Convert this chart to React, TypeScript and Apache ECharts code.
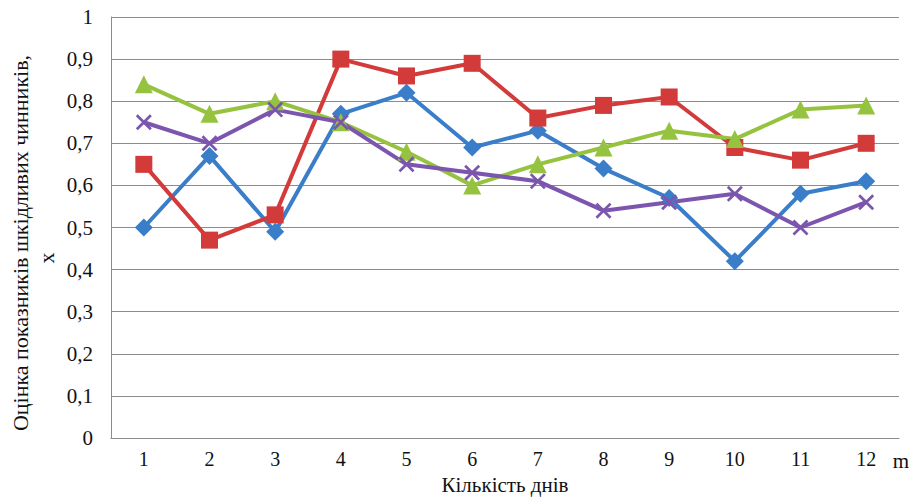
import React, { useEffect, useRef } from "react";
import * as echarts from "echarts";

const categories = ["1", "2", "3", "4", "5", "6", "7", "8", "9", "10", "11", "12"];
const blueSeries = [0.5, 0.67, 0.49, 0.77, 0.82, 0.69, 0.73, 0.64, 0.57, 0.42, 0.58, 0.61];
const redSeries = [0.65, 0.47, 0.53, 0.9, 0.86, 0.89, 0.76, 0.79, 0.81, 0.69, 0.66, 0.7];
const greenSeries = [0.84, 0.77, 0.8, 0.75, 0.68, 0.6, 0.65, 0.69, 0.73, 0.71, 0.78, 0.79];
const purpleSeries = [0.75, 0.7, 0.78, 0.75, 0.65, 0.63, 0.61, 0.54, 0.56, 0.58, 0.5, 0.56];

const yAxisTitle = "Оцінка показників шкідливих чинників,";
const yAxisTitle2 = "x";
const xAxisTitle = "Кількість днів";
const xAxisUnit = "m";

const FONT = "'Liberation Serif', 'Times New Roman', serif";
const crossPath =
  "path://M0,1.2L1.2,0L5,3.8L8.8,0L10,1.2L6.2,5L10,8.8L8.8,10L5,6.2L1.2,10L0,8.8L3.8,5Z";

export default function App() {
  const ref = useRef<HTMLDivElement>(null);
  useEffect(() => {
    if (!ref.current) return;
    const chart = echarts.init(ref.current, null, { renderer: "svg" });
    const mk = (name: string, data: number[], color: string, symbol: string, size: number) => ({
      name,
      type: "line",
      data,
      symbol,
      symbolSize: size,
      showAllSymbol: true,
      lineStyle: { color, width: 4 },
      itemStyle: { color },
      z: 3,
    });
    const titleStyle = (text: string, size: number) => ({
      text,
      fontFamily: FONT,
      fontSize: size,
      fill: "#111",
      textAlign: "center",
      textVerticalAlign: "middle",
    });
    chart.setOption({
      animation: false,
      backgroundColor: "#ffffff",
      grid: { left: 111, right: 14, top: 17, bottom: 59, containLabel: false },
      xAxis: {
        type: "category",
        data: categories,
        boundaryGap: true,
        axisLine: { show: true, lineStyle: { color: "#8c8c8c", width: 1 } },
        axisTick: { show: false },
        axisLabel: { fontFamily: FONT, fontSize: 20, color: "#111", margin: 11 },
      },
      yAxis: {
        type: "value",
        min: 0,
        max: 1,
        interval: 0.1,
        axisLine: { show: true, lineStyle: { color: "#8c8c8c", width: 1 } },
        axisTick: { show: false },
        splitLine: { show: true, lineStyle: { color: "#8c8c8c", width: 1 } },
        axisLabel: {
          fontFamily: FONT,
          fontSize: 21,
          color: "#111",
          margin: 18,
          formatter: (v: number) => {
            const r = Math.round(v * 10) / 10;
            return String(r).replace(".", ",");
          },
        },
      },
      graphic: [
        { type: "text", x: 20, y: 243, rotation: Math.PI / 2, style: titleStyle(yAxisTitle, 22) },
        { type: "text", x: 46, y: 258, rotation: Math.PI / 2, style: titleStyle(yAxisTitle2, 22) },
        { type: "text", x: 505, y: 485, style: titleStyle(xAxisTitle, 21) },
        { type: "text", x: 901, y: 461, style: titleStyle(xAxisUnit, 21) },
      ],
      series: [
        mk("Ряд1", blueSeries, "#3A7DC9", "diamond", 18),
        mk("Ряд2", redSeries, "#D33B3B", "rect", 17),
        mk("Ряд3", greenSeries, "#96C33F", "triangle", 18),
        mk("Ряд4", purpleSeries, "#7B55AE", crossPath, 16),
      ],
    });
    return () => chart.dispose();
  }, []);
  return <div ref={ref} style={{ width: 913, height: 497, position: "absolute", left: 0, top: 0 }} />;
}
